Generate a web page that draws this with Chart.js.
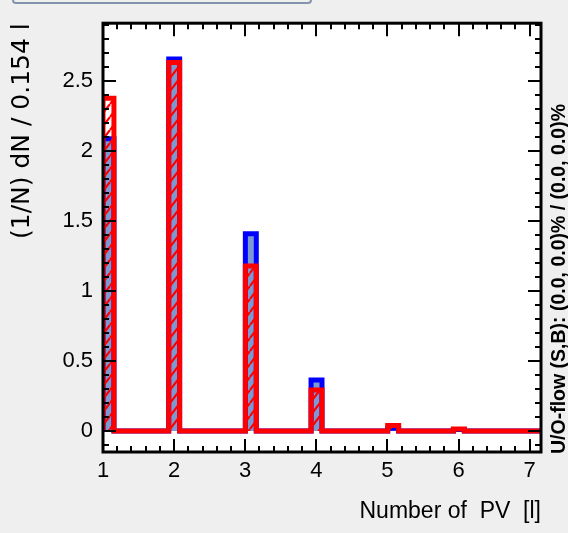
<!DOCTYPE html>
<html>
<head>
<meta charset="utf-8">
<script src="https://cdn.jsdelivr.net/npm/chart.js@4.4.1/dist/chart.umd.min.js"></script>
<style>
  html, body { margin: 0; padding: 0; background: #efefef; }
  #wrap { position: relative; width: 568px; height: 533px; overflow: hidden; }
  #tab { position: absolute; left: 12px; top: -10px; width: 296px; height: 10px;
         border: 2px solid #8494ac; border-radius: 4px; }
</style>
</head>
<body>
<div id="wrap">
  <canvas id="pvChart" width="568" height="533"></canvas>
  <div id="tab"></div>
</div>
<script>
// histogram binning (40 bins of 0.154 starting at 1)
const xMin = 1;
const binWidth = 0.154;
const nBins = 40;

// signal (blue) and background (red) per bin
const signal = [
  2.085, 0, 0, 0, 0, 0, 2.654, 0, 0, 0,
  0, 0, 0, 1.407, 0, 0, 0, 0, 0, 0.364,
  0, 0, 0, 0, 0, 0, 0.02, 0, 0, 0,
  0, 0, 0.01, 0, 0, 0, 0, 0, 0, 0
];
const background = [
  2.375, 0, 0, 0, 0, 0, 2.63, 0, 0, 0,
  0, 0, 0, 1.178, 0, 0, 0, 0, 0, 0.293,
  0, 0, 0, 0, 0, 0, 0.04, 0, 0, 0,
  0, 0, 0.015, 0, 0, 0, 0, 0, 0, 0
];

const xTicks = [1, 2, 3, 4, 5, 6, 7];
const xTickLabels = ['1', '2', '3', '4', '5', '6', '7'];
const yTicks = [0, 0.5, 1, 1.5, 2, 2.5];
const yTickLabels = ['0', '0.5', '1', '1.5', '2', '2.5'];

const sans = '"Liberation Sans", Arial, sans-serif';

const binEdges = [];
for (let i = 0; i <= nBins; i++) binEdges.push(+(xMin + i * binWidth).toFixed(3));

function histPoints(values) {
  const pts = [{x: binEdges[0], y: 0}];
  values.forEach((v, i) => pts.push({x: binEdges[i], y: v}));
  pts.push({x: binEdges[nBins], y: values[nBins - 1]});
  pts.push({x: binEdges[nBins], y: 0});
  return pts;
}

function makeHatch(color) {
  const w = 10, h = 13;
  const c = document.createElement('canvas');
  c.width = w; c.height = h;
  const g = c.getContext('2d');
  g.strokeStyle = color;
  g.lineWidth = 2.2;
  g.beginPath();
  g.moveTo(0, h); g.lineTo(w, 0);
  g.moveTo(-w, h); g.lineTo(0, 0);
  g.moveTo(w, h); g.lineTo(2 * w, 0);
  g.stroke();
  return g.createPattern(c, 'repeat');
}

const minorX = [], minorY = [];
for (let i = 1; i <= 30; i++) minorX.push(1 + i * 0.2);
for (let i = -1; i <= 29; i++) minorY.push(i * 0.1);

// frame + ROOT style inner ticks on all four sides
const frameAndTicks = {
  id: 'frameAndTicks',
  beforeDraw(chart) {
    const {ctx, chartArea: a} = chart;
    ctx.save();
    ctx.fillStyle = '#ffffff';
    ctx.fillRect(a.left, a.top, a.right - a.left, a.bottom - a.top);
    ctx.restore();
  },
  afterDatasetsDraw(chart) {
    const {ctx, chartArea: a, scales: {x, y}} = chart;
    ctx.save();
    ctx.strokeStyle = '#000';
    ctx.lineWidth = 2;
    ctx.beginPath();
    const tickX = (v, len) => {
      const px = Math.round(x.getPixelForValue(v));
      ctx.moveTo(px, a.bottom); ctx.lineTo(px, a.bottom - len);
      ctx.moveTo(px, a.top); ctx.lineTo(px, a.top + len);
    };
    const tickY = (v, len) => {
      const py = Math.round(y.getPixelForValue(v));
      ctx.moveTo(a.left, py); ctx.lineTo(a.left + len, py);
      ctx.moveTo(a.right, py); ctx.lineTo(a.right - len, py);
    };
    minorX.forEach(v => { if (v < 7.16) tickX(v, 6); });
    xTicks.forEach(v => tickX(v, 13));
    minorY.forEach(v => tickY(v, 6));
    yTicks.forEach(v => tickY(v, 13));
    ctx.stroke();
    ctx.lineWidth = 3;
    ctx.strokeRect(a.left, a.top, a.right - a.left, a.bottom - a.top);

    // under/overflow note on the right
    ctx.fillStyle = '#000';
    ctx.font = 'bold 19.5px "Liberation Sans", Arial, sans-serif';
    ctx.textAlign = 'left';
    ctx.textBaseline = 'alphabetic';
    ctx.translate(565, 454);
    ctx.rotate(-Math.PI / 2);
    ctx.fillText('U/O-flow (S,B): (0.0, 0.0)% / (0.0, 0.0)%', 0, 0);
    ctx.restore();
  }
};

const ctx = document.getElementById('pvChart').getContext('2d');
const pvChart = new Chart(ctx, {
  type: 'line',
  data: {
    datasets: [
      {
        label: 'Background',
        data: histPoints(background),
        stepped: true,
        borderColor: '#ff0000',
        borderWidth: 5,
        backgroundColor: makeHatch('#ff0000'),
        fill: 'origin',
        pointRadius: 0,
      },
      {
        label: 'Signal',
        data: histPoints(signal),
        stepped: true,
        borderColor: '#0000ff',
        borderWidth: 5,
        backgroundColor: '#7d99d1',
        fill: 'origin',
        pointRadius: 0,
      },
    ],
  },
  options: {
    responsive: false,
    animation: false,
    layout: { padding: { top: 23, right: 27, left: 0, bottom: 0 } },
    plugins: { legend: { display: false }, tooltip: { enabled: false } },
    scales: {
      x: {
        type: 'linear',
        min: 1,
        max: 7.16,
        afterFit: s => { s.height = 81; },
        afterBuildTicks: s => { s.ticks = xTicks.map(v => ({value: v})); },
        grid: { display: false, drawTicks: false },
        border: { display: false },
        ticks: {
          padding: 6,
          color: '#000',
          font: { family: sans, size: 22 },
          callback: v => xTickLabels[xTicks.indexOf(v)],
        },
        title: {
          display: true,
          text: 'Number of  PV  [l]',
          align: 'end',
          color: '#000',
          font: { family: sans, size: 23 },
          padding: { top: 0, bottom: 8 },
        },
      },
      y: {
        min: -0.15,
        max: 2.91,
        afterFit: s => { s.width = 103; },
        afterBuildTicks: s => { s.ticks = yTicks.map(v => ({value: v})); },
        grid: { display: false, drawTicks: false },
        border: { display: false },
        ticks: {
          padding: 10,
          color: '#000',
          font: { family: sans, size: 22 },
          callback: v => yTickLabels[yTicks.indexOf(v)],
        },
        title: {
          display: true,
          text: '(1/N) dN / 0.154 l',
          align: 'end',
          color: '#000',
          font: { family: '"DejaVu Sans", sans-serif', size: 25 },
          padding: { top: 7, bottom: 0 },
        },
      },
    },
  },
  plugins: [frameAndTicks],
});
</script>
</body>
</html>
